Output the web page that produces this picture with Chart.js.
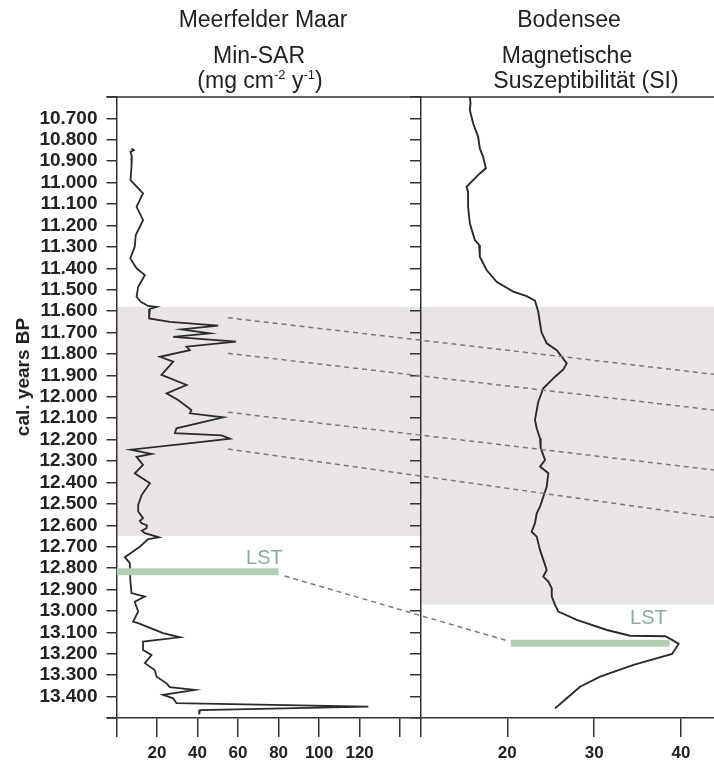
<!DOCTYPE html>
<html><head><meta charset="utf-8">
<script src="https://cdn.jsdelivr.net/npm/chart.js@4/dist/chart.umd.min.js"></script>
<style>html,body{margin:0;padding:0;background:#fff}#wrap{position:relative;width:714px;height:760px}</style>
</head><body><div id="wrap"><canvas id="c" width="714" height="760"></canvas></div>
<script>
// ---------------- DATA ----------------
const leftYears = [
  10840,10848,10856,10880,10926,10988,11050,11113,11175,11245,
  11299,11354,11400,11432,11486,11533,11556,11576,11580,11590,
  11634,11650,11668,11685,11704,11720,11742,11766,11782,11813,
  11836,11898,11945,11984,12015,12062,12077,12096,12147,12170,
  12180,12196,12212,12247,12267,12280,12318,12357,12404,12459,
  12505,12536,12567,12580,12591,12600,12614,12625,12637,12656,
  12665,12700,12749,12777,12855,12917,12933,12957,13003,13050,
  13057,13104,13123,13143,13182,13206,13244,13276,13307,13338,
  13356,13369,13392,13408,13431,13447,13463,13483];
const leftSAR = [
  7.4,8.6,6.9,7.6,7.4,6.9,13.1,9.9,13.1,9.5,
  9.0,6.8,9.9,14.0,10.7,9.9,12.0,15.6,19.8,16.5,
  16.1,26.3,50.2,32.1,46.1,28.0,59.0,34.6,36.2,21.4,
  28.0,22.2,34.6,24.7,30.4,37.0,36.2,52.7,29.6,28.8,
  51.9,56.0,41.2,7.0,17.3,9.9,13.1,9.0,16.5,12.4,
  10.7,10.7,13.1,11.5,12.4,15.0,14.8,12.5,14.0,21.0,
  15.6,11.5,4.1,6.6,6.8,7.4,14.0,9.0,10.7,8.2,
  10.7,23.0,31.3,13.1,13.1,17.3,14.0,18.9,19.8,24.7,
  26.3,38.7,23.0,28.0,29.6,124.3,41.2,40.8];

const rightYears = [
  10600,10630,10661,10723,10786,10840,10879,10933,10957,11019,
  11043,11113,11190,11268,11291,11346,11408,11463,11509,11530,
  11551,11603,11657,11700,11750,11782,11844,11872,11906,11960,
  12023,12108,12147,12194,12240,12295,12326,12357,12420,12513,
  12544,12591,12630,12653,12715,12809,12840,12863,12894,12933,
  12972,13003,13042,13089,13116,13118,13135,13154,13201,13252,
  13307,13354,13408,13455];
const rightMS = [
  15.69,15.77,15.69,16.07,16.65,16.84,17.22,17.54,16.84,15.31,
  15.49,15.49,15.69,16.27,16.76,16.84,17.62,18.77,20.69,22.23,
  23.19,23.57,23.77,23.95,24.54,25.70,26.85,26.46,25.50,24.15,
  23.57,23.19,23.39,23.77,23.85,24.35,23.77,24.73,24.54,23.77,
  23.39,23.19,22.81,23.39,23.77,24.54,24.15,24.73,25.12,25.12,
  25.50,25.88,28.00,31.47,34.15,38.19,38.97,39.73,38.97,34.54,
  30.69,28.38,26.85,25.50];

const yearTicks = [10600,10700,10800,10900,11000,11100,11200,11300,11400,11500,
  11600,11700,11800,11900,12000,12100,12200,12300,12400,12500,
  12600,12700,12800,12900,13000,13100,13200,13300,13400,13500];
const yearTickLabels = ['','10.700','10.800','10.900','11.000','11.100','11.200','11.300','11.400','11.500',
  '11.600','11.700','11.800','11.900','12.000','12.100','12.200','12.300','12.400','12.500',
  '12.600','12.700','12.800','12.900','13.000','13.100','13.200','13.300','13.400',''];
const leftTicks = [0,20,40,60,80,100,120,140];
const leftTickLabels = ['','20','40','60','80','100','120',''];
const rightTicks = [10,20,30,40];
const rightTickLabels = ['','20','30','40'];

const leftBand = [11580, 12650];
const rightBand = [11580, 12970];
const lstLeftX = [0, 80];
const lstLeftYear = 12817;
const lstRightX = [20.4, 38.7];
const lstRightYear = 13151;
const corrStartX = 55;
const corrLeftYears = [11631, 11797, 12072, 12244];
const corrRightYears = [11895, 12062, 12342, 12563];
const lstLink = [83, 12837, 20.07, 13140];
const lstLabelLeft = [73, 12753];
const lstLabelRight = [36.25, 13037];

// ---------------- STYLE ----------------
const FONT = "'Liberation Sans', Arial, Helvetica, sans-serif";
const INK = '#2a2a2a';
const AX = '#333333';
const BAND = '#e9e5e5';
const LSTC = '#b5cfb5';
const LSTT = '#8ea9a7';

const decor = {
  id: 'decor',
  beforeDraw(chart) {
    const {ctx, scales: {x1, x2, y}} = chart;
    ctx.save();
    ctx.fillStyle = BAND;
    let a = y.getPixelForValue(leftBand[0]), b = y.getPixelForValue(leftBand[1]);
    ctx.fillRect(x1.left, a, x1.right - x1.left, b - a);
    a = y.getPixelForValue(rightBand[0]); b = y.getPixelForValue(rightBand[1]);
    ctx.fillRect(x2.left, a, x2.right - x2.left, b - a);
    ctx.restore();
  },
  afterDatasetsDraw(chart) {
    const {ctx, scales: {x1, x2, y}} = chart;
    ctx.save();
    ctx.strokeStyle = '#7c7c7c';
    ctx.lineWidth = 1.5;
    ctx.setLineDash([5, 4]);
    for (let i = 0; i < corrLeftYears.length; i++) {
      ctx.beginPath();
      ctx.moveTo(x1.getPixelForValue(corrStartX), y.getPixelForValue(corrLeftYears[i]));
      ctx.lineTo(x2.getPixelForValue(x2.max), y.getPixelForValue(corrRightYears[i]));
      ctx.stroke();
    }
    ctx.beginPath();
    ctx.moveTo(x1.getPixelForValue(lstLink[0]), y.getPixelForValue(lstLink[1]));
    ctx.lineTo(x2.getPixelForValue(lstLink[2]), y.getPixelForValue(lstLink[3]));
    ctx.stroke();
    ctx.setLineDash([]);
    ctx.fillStyle = LSTT;
    ctx.font = '20px ' + FONT;
    ctx.textAlign = 'center';
    ctx.textBaseline = 'middle';
    ctx.fillText('LST', x1.getPixelForValue(lstLabelLeft[0]), y.getPixelForValue(lstLabelLeft[1]));
    ctx.fillText('LST', x2.getPixelForValue(lstLabelRight[0]), y.getPixelForValue(lstLabelRight[1]));
    ctx.restore();
  },
  afterDraw(chart) {
    const {ctx, chartArea} = chart;
    ctx.save();
    ctx.strokeStyle = AX;
    ctx.lineWidth = 1.5;
    ctx.beginPath();
    ctx.moveTo(chartArea.left - 10, chartArea.top);
    ctx.lineTo(chartArea.right, chartArea.top);
    ctx.moveTo(chartArea.left - 10, chartArea.bottom);
    ctx.lineTo(chartArea.left, chartArea.bottom);
    ctx.stroke();
    ctx.fillStyle = '#222';
    ctx.textAlign = 'center';
    ctx.textBaseline = 'middle';
    ctx.font = '23px ' + FONT;
    ctx.fillText('Meerfelder Maar', 263, 21);
    ctx.fillText('Min-SAR', 259, 57);
    ctx.fillText('Bodensee', 569, 21);
    ctx.fillText('Magnetische', 567, 57);
    ctx.fillText('Suszeptibilität (SI)', 586, 82);
    // unit with superscripts
    const parts = [['(mg cm', 0], ['-2', 1], [' y', 0], ['-1', 1], [')', 0]];
    const mainF = '23px ' + FONT, supF = '13px ' + FONT;
    let w = 0;
    parts.forEach(p => { ctx.font = p[1] ? supF : mainF; w += ctx.measureText(p[0]).width; });
    let x = 260 - w / 2;
    ctx.textAlign = 'left';
    parts.forEach(p => {
      ctx.font = p[1] ? supF : mainF;
      ctx.fillText(p[0], x, p[1] ? 75 : 82);
      x += ctx.measureText(p[0]).width;
    });
    // y axis title
    ctx.translate(24, 377);
    ctx.rotate(-Math.PI / 2);
    ctx.textAlign = 'center';
    ctx.font = 'bold 19px ' + FONT;
    ctx.fillText('cal. years BP', 0, 0);
    ctx.restore();
  }
};

const yCommon = { type: 'linear', min: 10600, max: 13500, reverse: true };
const noPad = s => { s.paddingLeft = 0; s.paddingRight = 0; };

new Chart(document.getElementById('c'), {
  type: 'scatter',
  data: {
    datasets: [
      { data: lstLeftX.map(v => ({x: v, y: lstLeftYear})), xAxisID: 'x1', yAxisID: 'y',
        showLine: true, borderColor: LSTC, borderWidth: 7, pointRadius: 0, borderCapStyle: 'butt', order: 0 },
      { data: lstRightX.map(v => ({x: v, y: lstRightYear})), xAxisID: 'x2', yAxisID: 'y',
        showLine: true, borderColor: LSTC, borderWidth: 7, pointRadius: 0, borderCapStyle: 'butt', order: 0 },
      { data: leftYears.map((yr, i) => ({x: leftSAR[i], y: yr})), xAxisID: 'x1', yAxisID: 'y',
        showLine: true, borderColor: INK, borderWidth: 1.8, pointRadius: 0, tension: 0, order: 1 },
      { data: rightYears.map((yr, i) => ({x: rightMS[i], y: yr})), xAxisID: 'x2', yAxisID: 'y',
        showLine: true, borderColor: INK, borderWidth: 1.9, pointRadius: 0, tension: 0, order: 1 }
    ]
  },
  options: {
    responsive: false,
    animation: false,
    events: [],
    layout: { padding: { top: 97, left: 0, right: 0, bottom: 0 } },
    plugins: { legend: { display: false }, tooltip: { enabled: false }, title: { display: false } },
    scales: {
      y: Object.assign({}, yCommon, {
        position: 'left',
        afterBuildTicks: s => { s.ticks = yearTicks.map(v => ({value: v})); },
        afterFit: s => { s.width = 116.5; s.paddingTop = 0; s.paddingBottom = 0; },
        ticks: { callback: (v, i) => yearTickLabels[i], font: { family: FONT, size: 19, weight: 'bold' }, color: '#222', padding: 9, autoSkip: false },
        grid: { drawOnChartArea: false, drawTicks: true, tickLength: 10, color: AX, lineWidth: 1.5 },
        border: { display: true, color: AX, width: 1.5 }
      }),
      y2: Object.assign({}, yCommon, {
        axis: 'y',
        position: { x2: 10 },
        afterBuildTicks: s => { s.ticks = yearTicks.map(v => ({value: v})); },
        ticks: { display: false },
        grid: { drawOnChartArea: false, drawTicks: true, tickLength: 10, color: AX, lineWidth: 1.5 },
        border: { display: true, color: AX, width: 1.5 }
      }),
      x1: {
        type: 'linear', axis: 'x', position: 'bottom', min: 0, max: 150,
        stack: 'panels', stackWeight: 303.8,
        afterBuildTicks: s => { s.ticks = leftTicks.map(v => ({value: v})); },
        afterFit: s => { s.height = 42; noPad(s); },
        ticks: { callback: (v, i) => leftTickLabels[i], font: { family: FONT, size: 17, weight: 'bold' }, color: '#222', padding: 6, autoSkip: false, maxRotation: 0 },
        grid: { drawOnChartArea: false, drawTicks: true, tickLength: 19, color: AX, lineWidth: 1.5 },
        border: { display: true, color: AX, width: 1.5 }
      },
      x2: {
        type: 'linear', axis: 'x', position: 'bottom', min: 10, max: 43.8,
        stack: 'panels', stackWeight: 293.5,
        afterBuildTicks: s => { s.ticks = rightTicks.map(v => ({value: v})); },
        afterFit: s => { s.height = 42; noPad(s); },
        ticks: { callback: (v, i) => rightTickLabels[i], font: { family: FONT, size: 17, weight: 'bold' }, color: '#222', padding: 6, autoSkip: false, maxRotation: 0 },
        grid: { drawOnChartArea: false, drawTicks: true, tickLength: 19, color: AX, lineWidth: 1.5 },
        border: { display: true, color: AX, width: 1.5 }
      }
    }
  },
  plugins: [decor]
});
</script>
</body></html>
